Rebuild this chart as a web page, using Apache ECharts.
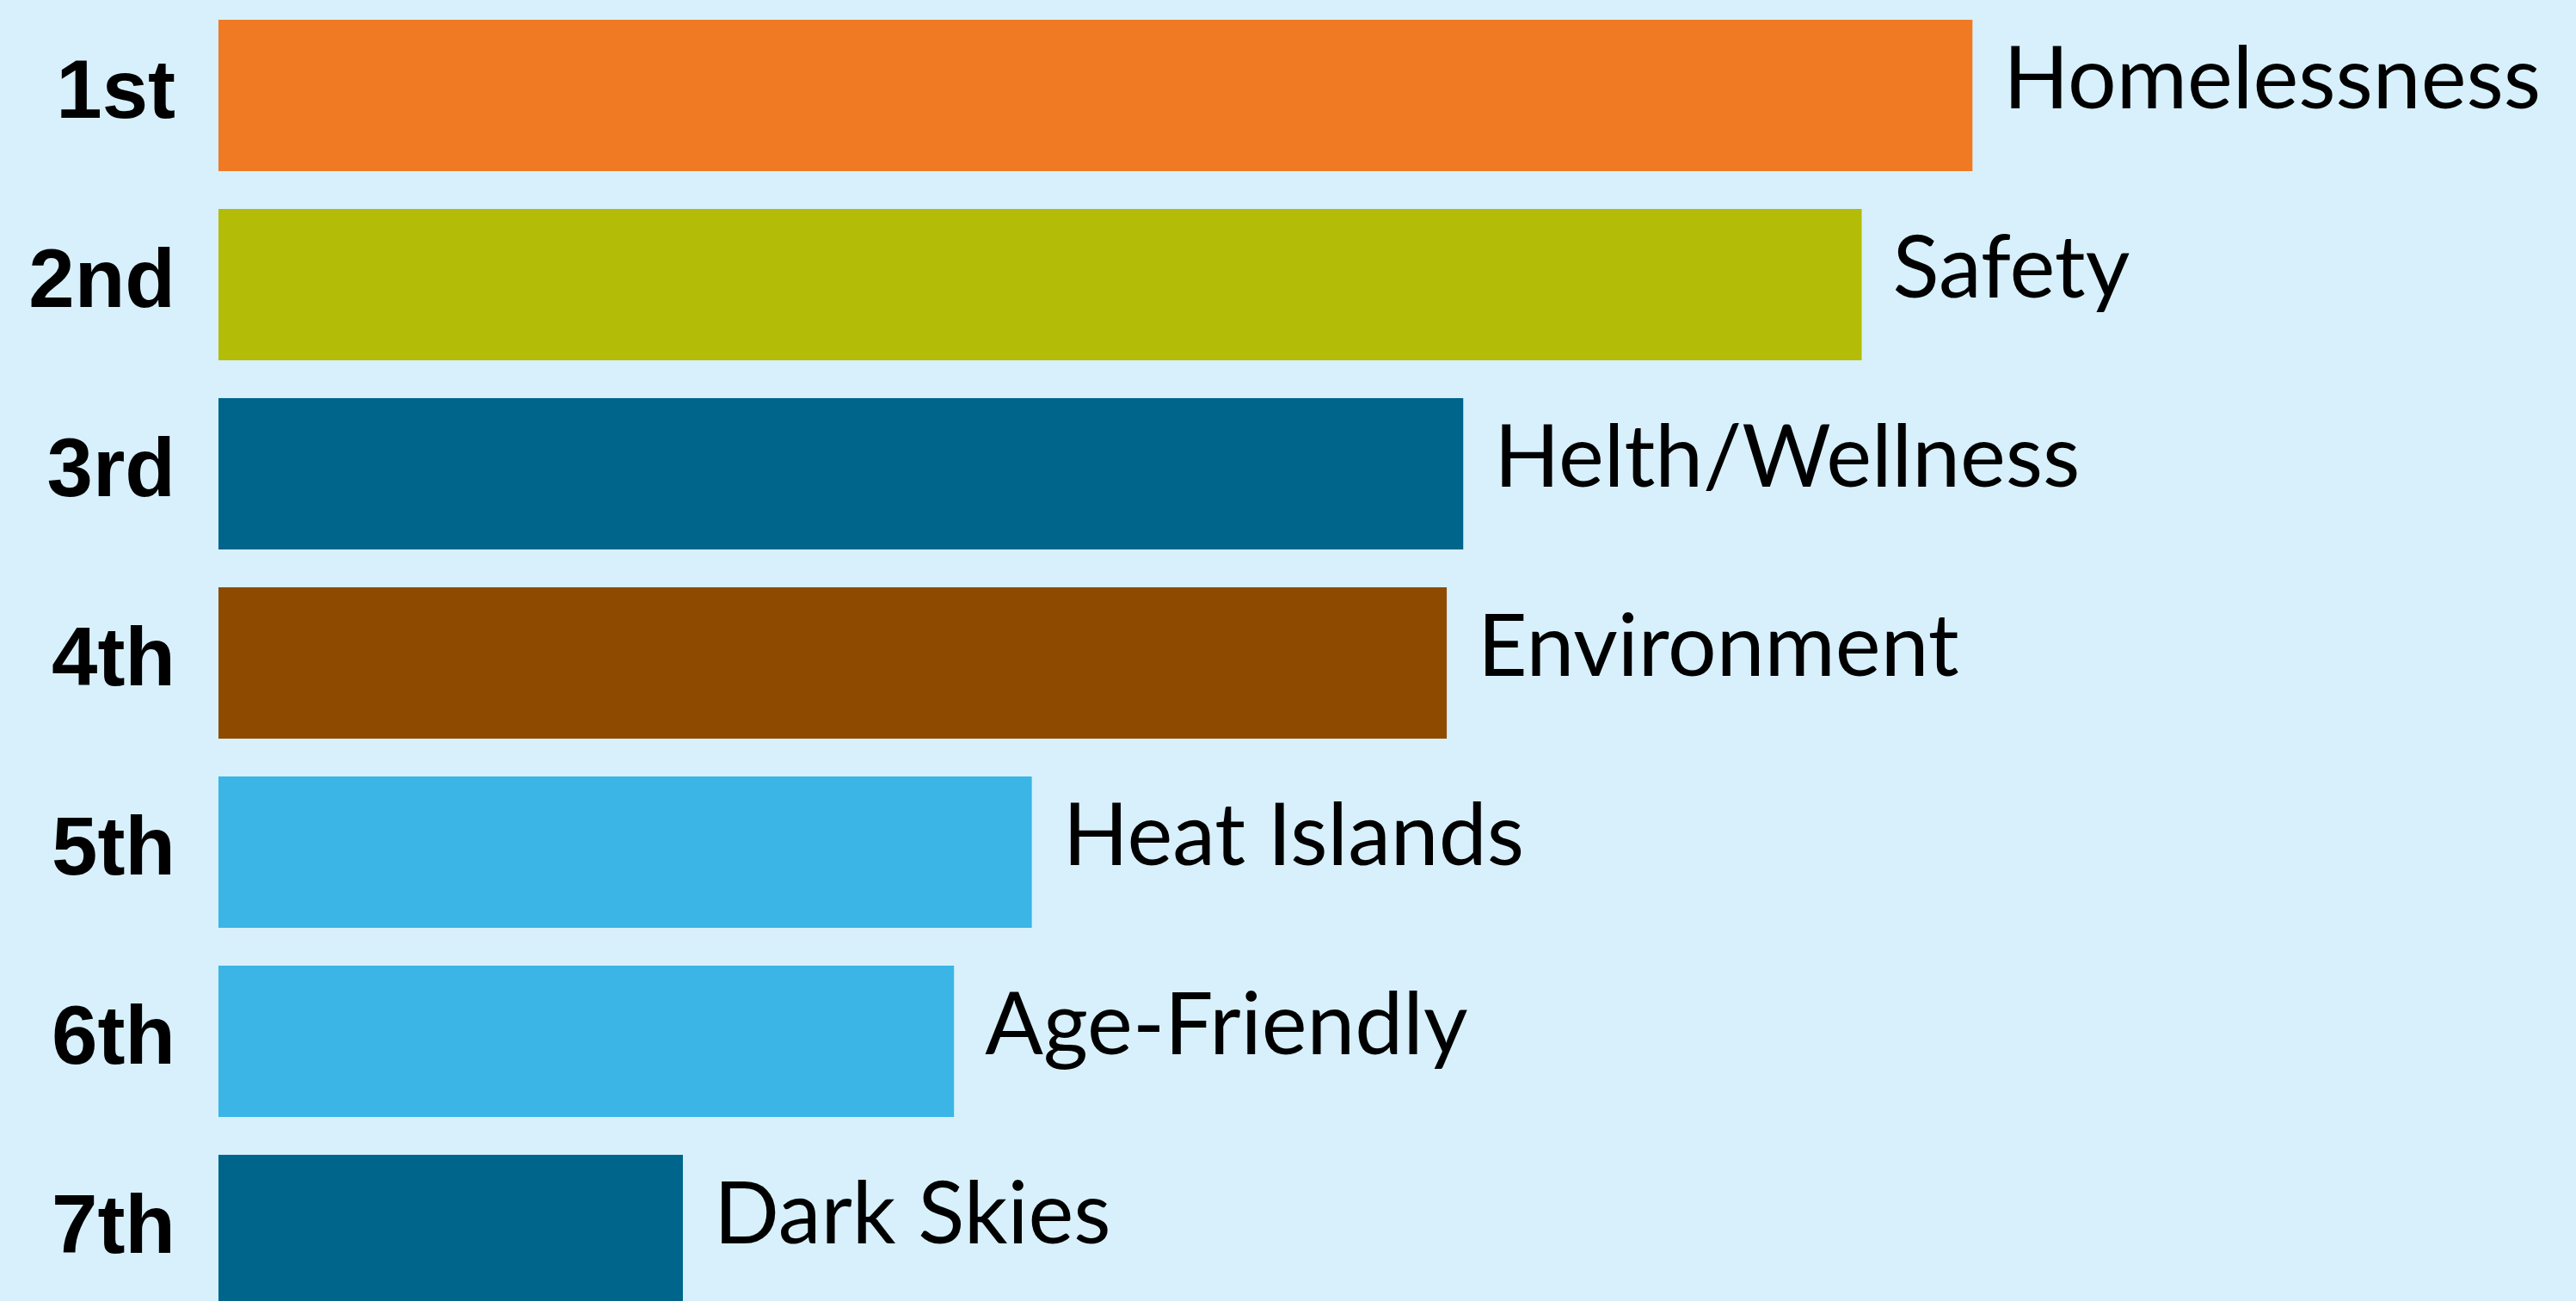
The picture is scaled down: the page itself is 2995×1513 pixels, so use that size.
<!DOCTYPE html>
<html>
<head>
<meta charset="utf-8">
<script src="https://cdn.jsdelivr.net/npm/echarts@6/dist/echarts.min.js"></script>
<style>
html,body{margin:0;padding:0;background:#D7F0FB;}
#main{width:2995px;height:1513px;}
</style>
</head>
<body>
<div id="main"></div>
<script>
const ranks = ['1st','2nd','3rd','4th','5th','6th','7th'];
const topics = ['Homelessness','Safety','Helth/Wellness','Environment','Heat Islands','Age-Friendly','Dark Skies'];
const scores = [74.4, 69.7, 52.8, 52.1, 34.5, 31.2, 19.7];
const colors = ['#F07A23','#B3BC06','#00658A','#8E4B00','#3AB5E6','#3AB5E6','#00658A'];

const chart = echarts.init(document.getElementById('main'));
chart.setOption({
  backgroundColor: '#D7F0FB',
  animation: false,
  grid: { left: 254, right: 0, top: 1, height: 1540, containLabel: false, outerBoundsMode: 'none' },
  xAxis: { type: 'value', min: 0, max: 100, show: false },
  yAxis: {
    type: 'category', data: ranks, inverse: true,
    axisLine: { show: false }, axisTick: { show: false }, splitLine: { show: false },
    axisLabel: { margin: 50, color: '#000', fontFamily: 'Liberation Sans', fontWeight: 'bold', fontSize: 96 }
  },
  series: [{
    type: 'bar',
    barWidth: 176,
    data: scores.map((v, i) => ({ value: v, itemStyle: { color: colors[i] } })),
    label: {
      show: true, position: 'right', distance: 36, offset: [0, -17],
      formatter: p => topics[p.dataIndex],
      color: '#000', fontFamily: 'Lato', fontSize: 100
    }
  }]
});
</script>
</body>
</html>
